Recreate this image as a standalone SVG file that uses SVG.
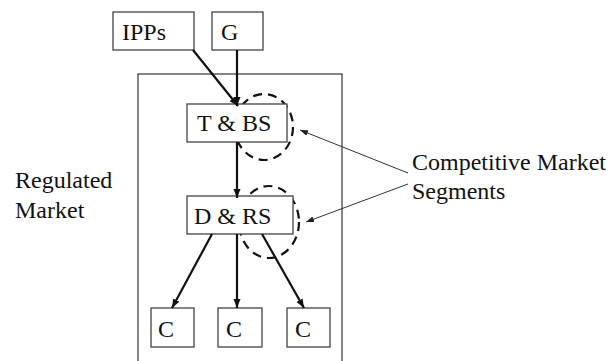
<svg xmlns="http://www.w3.org/2000/svg" width="612" height="361" viewBox="0 0 612 361">
<defs>
<style>
.box{fill:#fff;stroke:#444;stroke-width:1.3}
.frame{fill:none;stroke:#444;stroke-width:1.3}
.seg{fill:none;stroke:#111;stroke-width:2.2;stroke-dasharray:9 6}
.t{font-family:'Liberation Serif','Times New Roman',serif;font-size:24px;fill:#111}
.c{stroke:#111;stroke-width:2.2;fill:none;marker-end:url(#ah)}
.p{stroke:#333;stroke-width:1;fill:none;marker-end:url(#ahs)}
</style>
<marker id="ah" markerUnits="userSpaceOnUse" markerWidth="10" markerHeight="8" refX="9" refY="3.5" orient="auto">
<path d="M0,0 L9,3.5 L0,7 z" fill="#111"/>
</marker>
<marker id="ahs" markerUnits="userSpaceOnUse" markerWidth="10" markerHeight="8" refX="8" refY="3" orient="auto">
<path d="M0,0 L8,3 L0,6 z" fill="#222"/>
</marker>
</defs>
<rect class="frame" x="138" y="74" width="204" height="300"/>
<g id="regulated-label"><text class="t" x="15" y="188">Regulated</text><text class="t" x="15" y="218">Market</text></g>
<g id="seg1"><ellipse class="seg" cx="264" cy="127" rx="29" ry="33"/></g>
<g id="seg2"><ellipse class="seg" cx="269" cy="222" rx="30" ry="36"/></g>
<g id="ipps"><rect class="box" x="113" y="12" width="81" height="38"/><text class="t" x="122" y="40">IPPs</text></g>
<g id="g"><rect class="box" x="212" y="12" width="51" height="38"/><text class="t" x="221" y="40">G</text></g>
<g id="tbs"><rect class="box" x="187" y="104" width="100" height="38"/><text class="t" x="197" y="131">T &amp; BS</text></g>
<g id="drs"><rect class="box" x="187" y="196" width="106" height="38"/><text class="t" x="194" y="224">D &amp; RS</text></g>
<g id="c1"><rect class="box" x="151" y="308" width="43" height="39"/><text class="t" x="158" y="337">C</text></g>
<g id="c2"><rect class="box" x="218" y="308" width="44" height="39"/><text class="t" x="226" y="337">C</text></g>
<g id="c3"><rect class="box" x="287" y="308" width="43" height="39"/><text class="t" x="295" y="337">C</text></g>
<g id="competitive-label"><text class="t" x="412" y="170">Competitive Market</text><text class="t" x="412" y="199">Segments</text></g>
<g id="connectors">
<line class="c" x1="193" y1="50" x2="238" y2="106"/>
<line class="c" x1="237" y1="50" x2="237" y2="106"/>
<line class="c" x1="237" y1="142" x2="237" y2="198"/>
<line class="c" x1="212" y1="234" x2="172" y2="308"/>
<line class="c" x1="237" y1="234" x2="237" y2="308"/>
<line class="c" x1="262" y1="234" x2="304" y2="308"/>
<line class="p" x1="408" y1="173" x2="300" y2="130"/>
<line class="p" x1="408" y1="184" x2="306" y2="222"/>
</g>
</svg>
